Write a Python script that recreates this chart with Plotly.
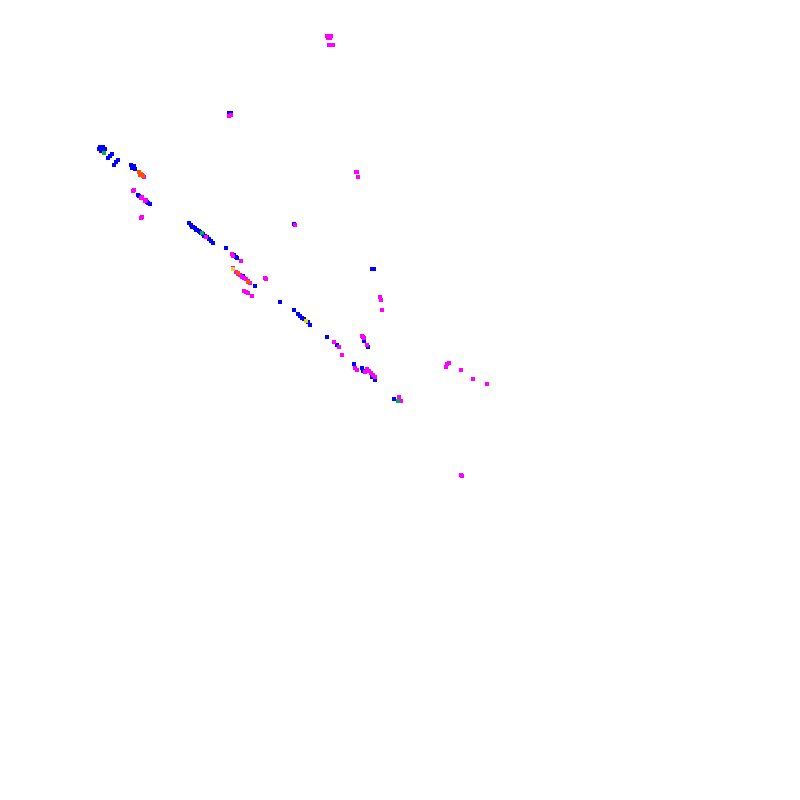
import plotly.graph_objects as go

# Point coordinates (x, y), grouped by colour
blue_x = [100, 102, 104, 101, 103, 99, 105, 108, 110, 112, 114, 116, 118,
          131, 133, 135, 132, 134, 138, 139, 147, 148, 150,
          189, 191, 193, 195, 197, 199, 201, 203, 205, 207, 209, 211, 213,
          192, 196, 200, 204,
          226, 234, 236, 237, 243, 255, 280, 294, 298, 300, 302, 304, 308, 310,
          327, 337, 364, 368, 354, 362, 363, 372, 375, 394, 372, 374, 229, 231, 294]
blue_y = [147, 149, 151, 151, 147, 149, 149, 158, 156, 154, 165, 162, 160,
          165, 167, 169, 168, 166, 195, 196, 202, 203, 204,
          223, 225, 227, 228, 230, 231, 233, 234, 236, 237, 239, 241, 243,
          227, 230, 232, 236,
          248, 255, 257, 258, 276, 286, 302, 310, 314, 316, 318, 319, 322, 325,
          337, 345, 341, 347, 364, 368, 371, 377, 380, 399, 269, 269, 113, 113, 224]

magenta_x = [327, 329, 331, 328, 330, 329, 331, 333, 229, 231, 356, 357, 358, 295,
             142, 144, 133, 134, 141, 142, 145, 146, 141, 142, 206,
             233, 232, 241, 233, 236, 238, 240, 242, 244, 246, 248, 250,
             265, 266, 244, 246, 248, 252, 334, 339, 342, 380, 381, 382,
             362, 363, 364, 367, 355, 357, 365, 367, 369, 371, 373, 375,
             399, 401, 447, 449, 446, 461, 473, 487, 461, 462]
magenta_y = [36, 36, 36, 38, 38, 45, 45, 45, 116, 115, 172, 172, 177, 225,
             175, 177, 191, 190, 198, 197, 201, 200, 218, 217, 237,
             256, 254, 261, 268, 272, 274, 275, 277, 278, 279, 281, 283,
             278, 279, 291, 292, 293, 296, 342, 347, 355, 297, 300, 310,
             336, 337, 338, 345, 368, 370, 372, 369, 371, 373, 375, 377,
             397, 401, 364, 363, 367, 370, 379, 384, 475, 476]

orange_x = [139, 141, 143, 140, 238, 248]
orange_y = [172, 174, 176, 175, 273, 282]

green_x = [104, 202, 398]
green_y = [153, 233, 401]

yellow_x = [306, 233]
yellow_y = [321, 269]

groups = [
    (blue_x, blue_y, "#0000ff"),
    (magenta_x, magenta_y, "#ff00ff"),
    (orange_x, orange_y, "#ff5000"),
    (green_x, green_y, "#00b050"),
    (yellow_x, yellow_y, "#e0e000"),
]

fig = go.Figure()
for xs, ys, col in groups:
    fig.add_trace(go.Scatter(
        x=xs, y=ys, mode="markers",
        marker=dict(symbol="square", size=4, color=col, line=dict(width=0)),
        hoverinfo="skip"))

fig.update_layout(
    width=800, height=800,
    margin=dict(l=0, r=0, t=0, b=0),
    paper_bgcolor="white", plot_bgcolor="white",
    showlegend=False,
    xaxis=dict(range=[8, 808], visible=False, fixedrange=True),
    yaxis=dict(range=[808, 8], visible=False, fixedrange=True),
)

fig.write_html("out.html")
